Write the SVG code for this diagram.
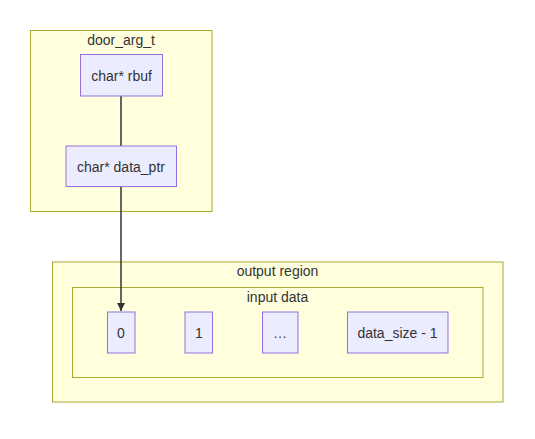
<svg xmlns="http://www.w3.org/2000/svg" width="535" height="439" viewBox="0 0 535 439">
<defs>
<style>
.cluster{fill:#ffffde;stroke:#aaaa33;stroke-width:1}
.node rect{fill:#ececff;stroke:#9370db;stroke-width:1}
text{font-family:"Liberation Sans",Arial,sans-serif;font-size:14px;fill:#333;text-anchor:middle;dominant-baseline:central}
.edge{stroke:#333;stroke-width:1.5;fill:none}
</style>
<marker id="arrow" viewBox="0 0 10 10" refX="10" refY="5" markerWidth="8" markerHeight="8" markerUnits="userSpaceOnUse" orient="auto">
<path d="M0,0 L10,5 L0,10 z" fill="#333"/>
</marker>
</defs>
<g id="cluster-door_arg_t">
<rect class="cluster" x="30.5" y="30.5" width="181.5" height="181"/>
<text x="121" y="40">door_arg_t</text>
</g>
<g id="cluster-output_region">
<rect class="cluster" x="52.5" y="262" width="450.5" height="140"/>
<text x="277.5" y="271">output region</text>
</g>
<g id="cluster-input_data">
<rect class="cluster" x="72.5" y="287.5" width="410.5" height="90"/>
<text x="277.5" y="296.5">input data</text>
</g>
<g id="connectors">
<path class="edge" d="M121,96 L121,146"/>
<path class="edge" d="M121,187 L121,311" marker-end="url(#arrow)"/>
</g>
<g id="node-rbuf" class="node">
<rect x="80.5" y="54.5" width="82" height="41.5"/>
<text x="121.5" y="75.5">char* rbuf</text>
</g>
<g id="node-data_ptr" class="node">
<rect x="66" y="146" width="110.5" height="40.5"/>
<text x="121" y="166.5">char* data_ptr</text>
</g>
<g id="node-0" class="node">
<rect x="107.5" y="312" width="27.5" height="41"/>
<text x="121" y="333">0</text>
</g>
<g id="node-1" class="node">
<rect x="185" y="312" width="27.5" height="41"/>
<text x="199" y="333">1</text>
</g>
<g id="node-ellipsis" class="node">
<rect x="262.5" y="312" width="35.5" height="41"/>
<text x="280" y="333">…</text>
</g>
<g id="node-last" class="node">
<rect x="347.5" y="312" width="100.5" height="41"/>
<text x="397.5" y="333">data_size - 1</text>
</g>
</svg>
